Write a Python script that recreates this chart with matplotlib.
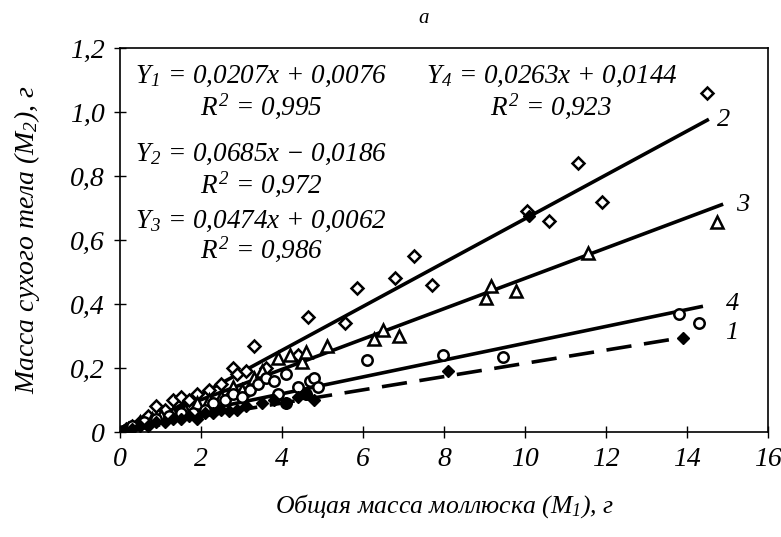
import matplotlib
matplotlib.use("Agg")
import matplotlib.pyplot as plt
import numpy as np

plt.rcParams['font.family'] = ['Liberation Serif', 'DejaVu Serif']
plt.rcParams['font.style'] = 'italic'
plt.rcParams['mathtext.fontset'] = 'custom'
plt.rcParams['mathtext.it'] = 'Liberation Serif:italic'
plt.rcParams['mathtext.rm'] = 'Liberation Serif:italic'

# series 1 - filled diamonds (dashed fit)
x1 = [0.1, 0.3, 0.5, 0.7, 0.9, 1.1, 1.3, 1.5, 1.7, 1.9, 2.1, 2.3, 2.5, 2.7, 2.9,
      3.1, 3.5, 3.8, 4.1, 4.4, 4.6, 4.8, 8.1, 10.1, 13.9]
y1 = [0.005, 0.01, 0.02, 0.02, 0.03, 0.03, 0.04, 0.04, 0.05, 0.04, 0.06, 0.06, 0.07, 0.065, 0.07,
      0.08, 0.09, 0.1, 0.09, 0.11, 0.12, 0.1, 0.19, 0.675, 0.295]
# series 2 - open diamonds
x2 = [0.15, 0.3, 0.5, 0.7, 0.9, 1.1, 1.3, 1.5, 1.7, 1.9, 2.2, 2.5, 2.8, 2.9, 3.1,
      3.3, 3.6, 4.4, 4.65, 5.56, 5.85, 6.8, 7.25, 7.7, 10.05, 10.6, 11.3, 11.9, 14.5]
y2 = [0.01, 0.02, 0.03, 0.05, 0.08, 0.07, 0.1, 0.11, 0.1, 0.12, 0.13, 0.15, 0.2, 0.18, 0.19,
      0.27, 0.2, 0.24, 0.36, 0.34, 0.45, 0.48, 0.55, 0.46, 0.69, 0.66, 0.84, 0.72, 1.06]
# series 3 - triangles
x3 = [0.2, 0.5, 0.8, 1.0, 1.3, 1.6, 1.9, 2.2, 2.5, 2.8, 3.0, 3.3, 3.5, 3.9, 4.2,
      4.5, 4.6, 5.1, 6.27, 6.5, 6.9, 9.04, 9.16, 9.78, 11.56, 14.74]
y3 = [0.01, 0.03, 0.04, 0.05, 0.06, 0.07, 0.09, 0.1, 0.11, 0.14, 0.13, 0.17, 0.19, 0.23, 0.24,
      0.22, 0.25, 0.27, 0.29, 0.32, 0.3, 0.42, 0.455, 0.44, 0.56, 0.656]
# series 4 - circles
x4 = [0.3, 0.6, 0.9, 1.2, 1.5, 1.8, 2.1, 2.3, 2.6, 2.8, 3.0, 3.2, 3.4, 3.6, 3.8,
      3.9, 4.1, 4.1, 4.4, 4.6, 4.7, 4.8, 4.9, 6.1, 7.98, 9.46, 13.8, 14.3]
y4 = [0.02, 0.03, 0.04, 0.05, 0.06, 0.06, 0.07, 0.09, 0.1, 0.12, 0.11, 0.13, 0.15, 0.17, 0.16,
      0.12, 0.09, 0.18, 0.14, 0.12, 0.16, 0.17, 0.14, 0.225, 0.24, 0.234, 0.37, 0.34]

# regression coefficients (slope, intercept, x range)
fit1 = (0.0207, 0.0076, 0.0, 13.9)
fit2 = (0.0685, -0.0186, 0.3, 14.5)
fit3 = (0.0474, 0.0062, 0.0, 14.85)
fit4 = (0.0263, 0.0144, 0.0, 14.35)

fig = plt.figure(figsize=(7.81, 5.37), dpi=100)
ax = fig.add_axes([0.1537, 0.1955, 0.8297, 0.7151])

def fitline(f, **kw):
    xs = np.array([f[2], f[3]])
    ax.plot(xs, f[0] * xs + f[1], color='black', lw=2.6, zorder=3, **kw)

fitline(fit2)
fitline(fit3)
fitline(fit4)
fitline(fit1, dashes=(7, 3.5))

ax.plot(x2, y2, 'D', mfc='white', mec='black', ms=6.5, mew=1.8, zorder=4)
ax.plot(x3, y3, '^', mfc='white', mec='black', ms=8.5, mew=1.8, zorder=4)
ax.plot(x4, y4, 'o', mfc='white', mec='black', ms=7.5, mew=1.8, zorder=4)
ax.plot(x1, y1, 'D', mfc='black', mec='black', ms=6.5, zorder=5)

ax.set_xlim(0, 16)
ax.set_ylim(0, 1.2)
ax.set_xticks(range(0, 17, 2))
yt = [0, 0.2, 0.4, 0.6, 0.8, 1.0, 1.2]
ax.set_yticks(yt)
ax.set_yticklabels(['0'] + [('%.1f' % v).replace('.', ',') for v in yt[1:]])
ax.tick_params(direction='inout', length=8, width=1, labelsize=20, pad=7)
for s in ax.spines.values():
    s.set_linewidth(1.2)

ax.set_xlabel('Общая масса моллюска ($M_1$), г', fontsize=18.5, labelpad=14)
ax.set_ylabel('Масса сухого тела ($M_2$), г', fontsize=20, labelpad=20)
fig.text(0.543, 0.965, 'а', fontsize=15, ha='center', va='center')

eq = dict(fontsize=19.5, transform=ax.transAxes, va='center', ha='left')
ax.text(0.023, 0.927, '$Y_1$ = 0,0207x + 0,0076', **eq)
ax.text(0.124, 0.849, '$R^2$ = 0,995', **eq)
ax.text(0.472, 0.927, '$Y_4$ = 0,0263x + 0,0144', **eq)
ax.text(0.571, 0.849, '$R^2$ = 0,923', **eq)
ax.text(0.023, 0.724, '$Y_2$ = 0,0685x − 0,0186', **eq)
ax.text(0.124, 0.646, '$R^2$ = 0,972', **eq)
ax.text(0.023, 0.549, '$Y_3$ = 0,0474x + 0,0062', **eq)
ax.text(0.124, 0.476, '$R^2$ = 0,986', **eq)

lab = dict(fontsize=19, ha='left', va='center')
ax.text(14.75, 0.975, '2', **lab)
ax.text(15.2, 0.71, '3', **lab)
ax.text(14.95, 0.40, '4', **lab)
ax.text(14.95, 0.31, '1', **lab)

fig.savefig('out.png', dpi=100)
